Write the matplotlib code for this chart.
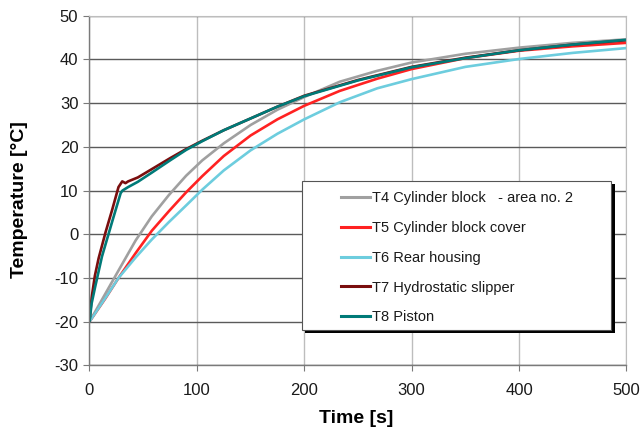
import matplotlib
matplotlib.use("Agg")
import matplotlib.pyplot as plt
from matplotlib.patches import Rectangle
from matplotlib.lines import Line2D

plt.rcParams['font.family'] = ['Liberation Sans', 'DejaVu Sans']
plt.rcParams['axes.unicode_minus'] = False

# time axis for the smooth curves [s]
t_main = [0, 15, 27, 43, 58, 74, 90, 105, 125, 150, 175, 200, 233, 268, 300, 350, 400, 450, 500]
T4 = [-20, -13.5, -8.3, -1.4, 4.1, 9.0, 13.4, 16.9, 20.8, 25.0, 28.5, 31.4, 34.9, 37.4, 39.3, 41.3, 42.7, 43.8, 44.6]
T5 = [-20, -14.6, -10.0, -4.3, 0.8, 5.3, 9.6, 13.3, 17.9, 22.6, 26.3, 29.4, 32.8, 35.6, 37.8, 40.3, 42.0, 43.0, 43.8]
T6 = [-20, -14.5, -10.0, -5.3, -1.2, 2.8, 6.6, 10.2, 14.6, 19.2, 23.0, 26.3, 30.2, 33.4, 35.5, 38.3, 40.1, 41.5, 42.6]

t_T7 = [0, 2, 5, 8.5, 15, 21, 27, 30.5, 33.5, 36, 45, 58, 75, 90, 105, 125, 150, 175, 200, 250, 300, 350, 400, 450, 500]
T7 = [-20, -14.5, -9.5, -5.5, 0.5, 5.5, 10.8, 12.1, 11.7, 12.1, 13.0, 14.9, 17.4, 19.5, 21.4, 23.8, 26.5, 29.2, 31.7, 35.3, 38.3, 40.4, 42.1, 43.4, 44.4]

t_T8 = [0, 2, 5.3, 11.6, 21, 29, 30.7, 36, 45, 58, 75, 90, 105, 125, 150, 175, 200, 250, 300, 350, 400, 450, 500]
T8 = [-20, -15.8, -12.0, -5.1, 2.8, 9.4, 10.0, 10.8, 12.0, 14.1, 16.9, 19.3, 21.3, 23.8, 26.5, 29.2, 31.6, 35.2, 38.2, 40.3, 42.1, 43.4, 44.5]

labels = ['T4 Cylinder block   - area no. 2', 'T5 Cylinder block cover',
          'T6 Rear housing', 'T7 Hydrostatic slipper', 'T8 Piston']
colors = ['#A0A0A0', '#FF2222', '#6DCDDE', '#7A0E0E', '#007A78']

fig = plt.figure(figsize=(6.42, 4.29), dpi=100)
ax = fig.add_axes([0.1394, 0.1483, 0.8364, 0.815])

series = [(t_main, T4), (t_main, T5), (t_main, T6), (t_T7, T7), (t_T8, T8)]
for (tt, yy), c, lab in zip(series, colors, labels):
    ax.plot(tt, yy, color=c, lw=1.9, label=lab, solid_capstyle='round', solid_joinstyle='round')

ax.set_xlim(0, 500)
ax.set_ylim(-30, 50)
ax.set_xticks(range(0, 501, 100))
ax.set_yticks(range(-30, 51, 10))
ax.yaxis.grid(True, color='#5a5a5a', lw=1.0)
ax.xaxis.grid(True, color='#bdbdbd', lw=1.0)
ax.set_axisbelow(True)
for s in ['top', 'right']:
    ax.spines[s].set_color('#bdbdbd')
for s in ['left', 'bottom']:
    ax.spines[s].set_color('#7a7a7a')
    ax.spines[s].set_linewidth(1.0)
ax.tick_params(axis='both', direction='out', length=4, color='#7a7a7a', labelsize=12, labelcolor='#1a1a1a')
ax.tick_params(axis='x', pad=9)
ax.tick_params(axis='y', pad=4)

ax.set_xlabel('Time [s]', fontsize=14, fontweight='bold')
ax.set_ylabel('Temperature [°C]', fontsize=14, fontweight='bold')
ax.xaxis.set_label_coords(0.496, -0.128)
ax.yaxis.set_label_coords(-0.1145, 0.473)

# legend box with black shadow
x0, y0, w, h = 0.396, 0.101, 0.576, 0.426
ax.add_patch(Rectangle((x0 + 0.006, y0 - 0.009), w, h, transform=ax.transAxes,
                       facecolor='black', edgecolor='none', zorder=5))
ax.add_patch(Rectangle((x0, y0), w, h, transform=ax.transAxes,
                       facecolor='white', edgecolor='#555555', lw=0.8, zorder=6))
handles = [Line2D([], [], color=c, lw=2.2) for c in colors]
leg = ax.legend(handles, labels, loc='upper left', bbox_to_anchor=(0.468, 0.499),
                frameon=False, fontsize=10.5, handlelength=2.0, handletextpad=0.15,
                labelspacing=1.09, borderpad=0, borderaxespad=0)
leg.set_zorder(7)
for txt in leg.get_texts():
    txt.set_color('#1a1a1a')

fig.savefig('out.png', dpi=100)
